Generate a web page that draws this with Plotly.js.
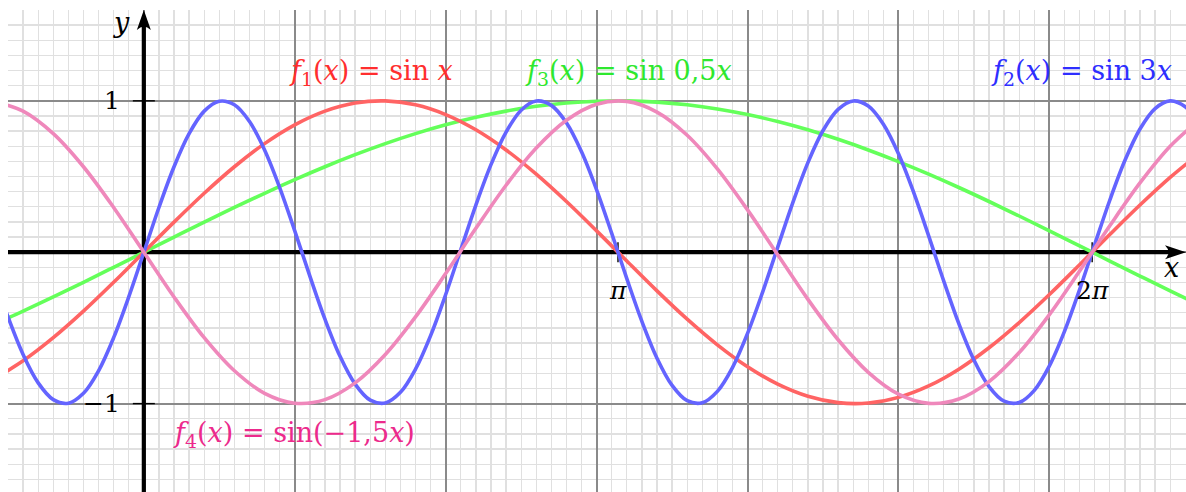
<!DOCTYPE html>
<html>
<head>
<meta charset="utf-8">
<script src="https://cdn.plot.ly/plotly-3.0.1.min.js"></script>
<style>
html,body{margin:0;padding:0;background:#ffffff;}
#chart{width:1186px;height:492px;}
</style>
</head>
<body>
<div id="chart"></div>
<script>
// x samples
const xFine = [-1.0,-0.9,-0.8,-0.7,-0.6,-0.5,-0.4,-0.3,-0.2,-0.1,0,0.1,0.2,0.3,0.4,0.5,0.6,0.7,0.8,0.9,1.0,1.1,1.2,1.3,1.4,1.5,1.6,1.7,1.8,1.9,2.0,2.1,2.2,2.3,2.4,2.5,2.6,2.7,2.8,2.9,3.0,3.1,3.2,3.3,3.4,3.5,3.6,3.7,3.8,3.9,4.0,4.1,4.2,4.3,4.4,4.5,4.6,4.7,4.8,4.9,5.0,5.1,5.2,5.3,5.4,5.5,5.6,5.7,5.8,5.9,6.0,6.1,6.2,6.3,6.4,6.5,6.6,6.7,6.8,6.9,7.0];
const xCoarse = [-1.0,-0.8,-0.6,-0.4,-0.2,0,0.2,0.4,0.6,0.8,1.0,1.2,1.4,1.6,1.8,2.0,2.2,2.4,2.6,2.8,3.0,3.2,3.4,3.6,3.8,4.0,4.2,4.4,4.6,4.8,5.0,5.2,5.4,5.6,5.8,6.0,6.2,6.4,6.6,6.8,7.0];

// f1(x) = sin x  (on xCoarse)
const f1Values = [-0.8415,-0.7174,-0.5646,-0.3894,-0.1987,0,0.1987,0.3894,0.5646,0.7174,0.8415,0.9320,0.9854,0.9996,0.9738,0.9093,0.8085,0.6755,0.5155,0.3350,0.1411,-0.0584,-0.2555,-0.4425,-0.6119,-0.7568,-0.8716,-0.9516,-0.9937,-0.9962,-0.9589,-0.8835,-0.7728,-0.6313,-0.4646,-0.2794,-0.0831,0.1165,0.3115,0.4941,0.6570];
// f2(x) = sin 3x  (on xFine)
const f2Values = [-0.1411,-0.4274,-0.6755,-0.8632,-0.9738,-0.9975,-0.9320,-0.7833,-0.5646,-0.2955,0,0.2955,0.5646,0.7833,0.9320,0.9975,0.9738,0.8632,0.6755,0.4274,0.1411,-0.1577,-0.4425,-0.6878,-0.8716,-0.9775,-0.9962,-0.9258,-0.7728,-0.5507,-0.2794,0.0168,0.3115,0.5784,0.7937,0.9380,0.9985,0.9699,0.8546,0.6630,0.4121,0.1245,-0.1743,-0.4575,-0.6999,-0.8797,-0.9809,-0.9946,-0.9193,-0.7620,-0.5366,-0.2632,0.0336,0.3275,0.5921,0.8038,0.9437,0.9993,0.9657,0.8457,0.6503,0.3967,0.1078,-0.1909,-0.4724,-0.7118,-0.8876,-0.9841,-0.9927,-0.9126,-0.7510,-0.5223,-0.2470,0.0504,0.3433,0.6055,0.8137,0.9491,0.9998,0.9611,0.8367];
// f3(x) = sin 0,5x  (on xCoarse)
const f3Values = [-0.4794,-0.3894,-0.2955,-0.1987,-0.0998,0,0.0998,0.1987,0.2955,0.3894,0.4794,0.5646,0.6442,0.7174,0.7833,0.8415,0.8912,0.9320,0.9636,0.9854,0.9975,0.9996,0.9917,0.9738,0.9463,0.9093,0.8632,0.8085,0.7457,0.6755,0.5985,0.5155,0.4274,0.3350,0.2392,0.1411,0.0416,-0.0584,-0.1577,-0.2555,-0.3508];
// f4(x) = sin(-1,5x)  (on xCoarse)
const f4Values = [0.9975,0.9320,0.7833,0.5646,0.2955,0,-0.2955,-0.5646,-0.7833,-0.9320,-0.9975,-0.9738,-0.8632,-0.6755,-0.4274,-0.1411,0.1577,0.4425,0.6878,0.8716,0.9775,0.9962,0.9258,0.7728,0.5507,0.2794,-0.0168,-0.3115,-0.5784,-0.7937,-0.9380,-0.9985,-0.9699,-0.8546,-0.6630,-0.4121,-0.1245,0.1743,0.4575,0.6999,0.8797];

// labels
const seriesLabels = [
  '<i>f</i><sub>1</sub>(<i>x</i>) = sin <i>x</i>',
  '<i>f</i><sub>2</sub>(<i>x</i>) = sin 3<i>x</i>',
  '<i>f</i><sub>3</sub>(<i>x</i>) = sin 0,5<i>x</i>',
  '<i>f</i><sub>4</sub>(<i>x</i>) = sin(−1,5<i>x</i>)'
];
const labelX = [1.504, 6.21, 3.214, 0.994];
const labelY = [1.186, 1.186, 1.186, -1.205];
const curveColors = ['#ff6464', '#6464ff', '#64ff5a', '#ef88bb'];
const textColors = ['#ff2e2e', '#2e2eff', '#2ee82e', '#ec2a8c'];

const yTickVals = [1, -1];
const yTickText = ['1', '−1'];
const xTickVals = [3.14159, 6.28319];
const xTickText = ['<i>π</i>', '2<i>π</i>'];

const serif = 'DejaVu Serif, Liberation Serif, serif';

function curve(x, y, i) {
  return {x: x, y: y, type: 'scatter', mode: 'lines', hoverinfo: 'skip',
    line: {color: curveColors[i], width: 3.6, shape: 'spline', smoothing: 1}};
}
const traces = [
  curve(xCoarse, f3Values, 2),
  curve(xCoarse, f1Values, 0),
  curve(xFine, f2Values, 1),
  curve(xCoarse, f4Values, 3)
];

const XMIN = -0.9, XMAX = 6.905, YMIN = -1.584, YMAX = 1.6;

const shapes = [
  // x axis
  {type:'line', xref:'x', yref:'y', x0:XMIN, x1:XMAX-0.1, y0:0, y1:0, line:{color:'#000', width:4.2}, layer:'between'},
  {type:'path', xref:'x', yref:'y', xsizemode:'pixel', ysizemode:'pixel', xanchor:XMAX, yanchor:0,
   path:'M0,0 L-21,7 Q-14,0 -21,-7 Z', fillcolor:'#000', line:{width:0}, layer:'between'},
  // y axis
  {type:'line', xref:'x', yref:'y', x0:0, x1:0, y0:YMIN, y1:YMAX-0.1, line:{color:'#000', width:4.2}, layer:'between'},
  {type:'path', xref:'x', yref:'y', xsizemode:'pixel', ysizemode:'pixel', xanchor:0, yanchor:YMAX,
   path:'M0,0 L-7,-20 Q0,-13 7,-20 Z', fillcolor:'#000', line:{width:0}, layer:'between'}
];
yTickVals.forEach(v => shapes.push({type:'line', xref:'x', yref:'y', xsizemode:'pixel', xanchor:0,
  x0:-11, x1:11, y0:v, y1:v, line:{color:'#000', width:1.4}, layer:'between'}));
xTickVals.forEach(v => shapes.push({type:'line', xref:'x', yref:'y', ysizemode:'pixel', yanchor:0,
  x0:v, x1:v, y0:-10, y1:10, line:{color:'#000', width:1.4}, layer:'between'}));

const annotations = [];
seriesLabels.forEach((t, i) => annotations.push({x:labelX[i], y:labelY[i], xref:'x', yref:'y', text:t,
  showarrow:false, xanchor:'center', yanchor:'middle', font:{family:serif, size:27, color:textColors[i]}}));
annotations.push({x:-0.145, y:1.0, xref:'x', yref:'y', text:yTickText[0], showarrow:false, xanchor:'right', yanchor:'middle', font:{family:serif, size:25, color:'#000'}});
annotations.push({x:-0.145, y:-1.0, xref:'x', yref:'y', text:yTickText[1], showarrow:false, xanchor:'right', yanchor:'middle', font:{family:serif, size:25, color:'#000'}});
annotations.push({x:xTickVals[0], y:-0.25, xref:'x', yref:'y', text:xTickText[0], showarrow:false, xanchor:'center', yanchor:'middle', font:{family:serif, size:25, color:'#000'}});
annotations.push({x:xTickVals[1], y:-0.25, xref:'x', yref:'y', text:xTickText[1], showarrow:false, xanchor:'center', yanchor:'middle', font:{family:serif, size:25, color:'#000'}});
annotations.push({x:-0.146, y:1.52, xref:'x', yref:'y', text:'<i>y</i>', showarrow:false, xanchor:'center', yanchor:'middle', font:{family:serif, size:27, color:'#000'}});
annotations.push({x:6.81, y:-0.10, xref:'x', yref:'y', text:'<i>x</i>', showarrow:false, xanchor:'center', yanchor:'middle', font:{family:serif, size:27, color:'#000'}});

const axisCommon = {tick0:0, dtick:1, showgrid:true, gridcolor:'#8a8a8a', gridwidth:2,
  zeroline:false, showticklabels:false, ticks:'', showline:false, fixedrange:true, automargin:false,
  minor:{tick0:0, dtick:0.1, showgrid:true, gridcolor:'#e0e0e0', gridwidth:1.3, ticks:''}};

const layout = {
  width:1186, height:492,
  margin:{l:8, r:0, t:10, b:0, pad:0},
  paper_bgcolor:'#ffffff', plot_bgcolor:'#ffffff',
  showlegend:false,
  xaxis:Object.assign({range:[XMIN, XMAX]}, axisCommon),
  yaxis:Object.assign({range:[YMIN, YMAX]}, axisCommon),
  shapes:shapes,
  annotations:annotations
};

Plotly.newPlot('chart', traces, layout, {displayModeBar:false, staticPlot:true});
</script>
</body>
</html>
